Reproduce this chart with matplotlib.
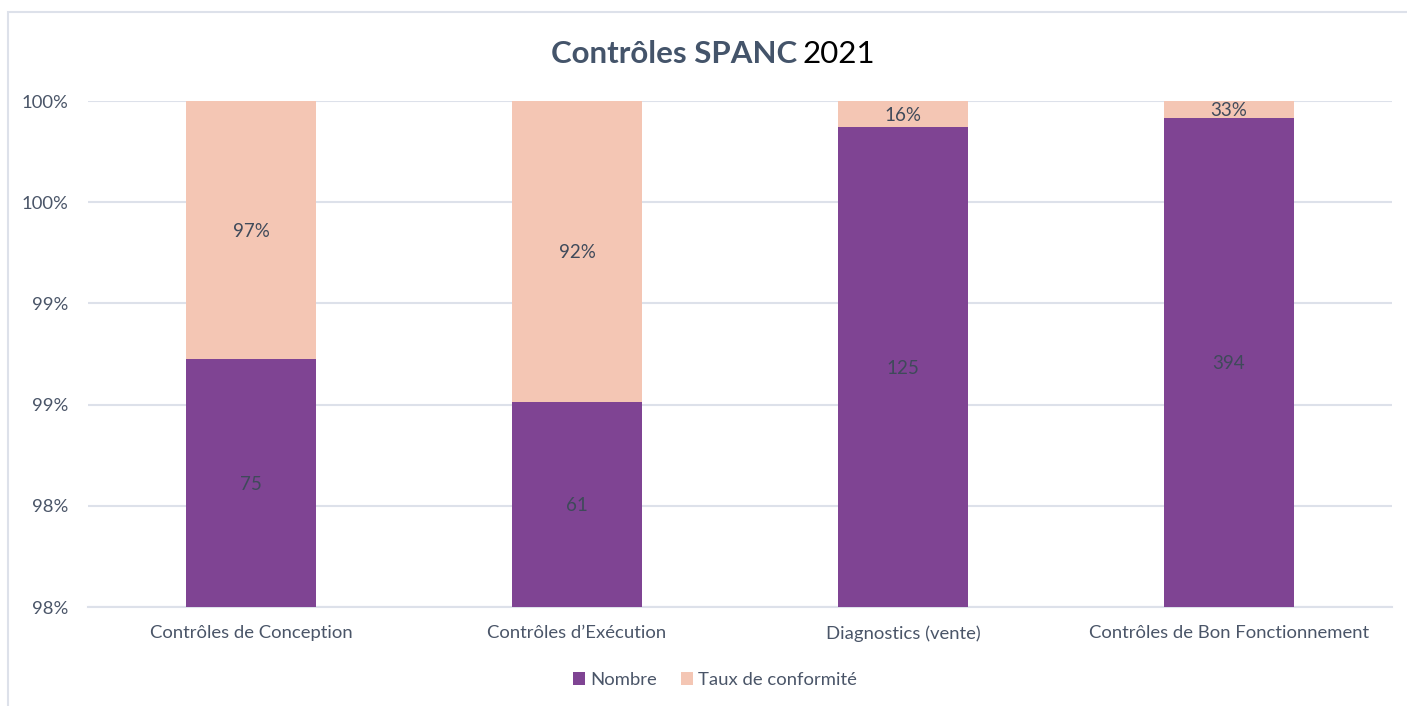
import numpy as np
import matplotlib.pyplot as plt
from matplotlib.patches import Rectangle

categories = ['Contrôles de Conception', 'Contrôles d’Exécution', 'Diagnostics (vente)',
              'Contrôles de Bon Fonctionnement']
nombre = [75, 61, 125, 394]
taux = [0.97, 0.92, 0.16, 0.33]
taux_labels = ['97%', '92%', '16%', '33%']
y_ticks = [0.975, 0.98, 0.985, 0.99, 0.995, 1.0]
y_tick_labels = ['98%', '98%', '99%', '99%', '100%', '100%']

plt.rcParams['font.family'] = ['Lato', 'DejaVu Sans']

purple = '#7f4493'
pink = '#f4c6b4'
txt = '#4a5568'
grid = '#dde1ea'

# 100% empilé : chaque série en part du total
nombre_a = np.array(nombre, dtype=float)
taux_a = np.array(taux, dtype=float)
total = nombre_a + taux_a
p_nombre = nombre_a / total
p_taux = taux_a / total

fig = plt.figure(figsize=(14.07, 7.06), dpi=100)
ax = fig.add_axes([88 / 1407, 1 - 607 / 706, (1392 - 88) / 1407, (607 - 101) / 706])

x = np.arange(len(categories))
ax.bar(x, p_nombre, width=0.4, color=purple, label='Nombre', zorder=3)
ax.bar(x, p_taux, width=0.4, bottom=p_nombre, color=pink, label='Taux de conformité', zorder=3)

ymin, ymax = y_ticks[0], y_ticks[-1]
ax.set_ylim(ymin, ymax)
ax.set_xlim(-0.5, len(categories) - 0.5)

# étiquettes au milieu de la partie visible
for i in range(len(categories)):
    lo = max(ymin, 0)
    hi = p_nombre[i]
    ax.text(x[i], (lo + hi) / 2, str(nombre[i]), ha='center', va='center_baseline',
            fontsize=13.5, color='#3f4a5a', zorder=4)
    lo = max(ymin, p_nombre[i])
    hi = min(ymax, p_nombre[i] + p_taux[i])
    ax.text(x[i], (lo + hi) / 2, taux_labels[i], ha='center', va='center_baseline',
            fontsize=13.5, color='#3f4a5a', zorder=4)

ax.set_yticks(y_ticks)
ax.set_yticklabels(y_tick_labels)
ax.set_xticks(x)
ax.set_xticklabels(categories)
ax.tick_params(axis='both', length=0, labelsize=13.3, colors=txt)
ax.tick_params(axis='x', pad=13)
ax.tick_params(axis='y', pad=14)
ax.yaxis.grid(True, color=grid, linewidth=1.5, zorder=0)
for s in ['top', 'right', 'left']:
    ax.spines[s].set_visible(False)
ax.spines['bottom'].set_color(grid)
ax.spines['bottom'].set_linewidth(1.5)

# titre en deux morceaux
fig.text(797 / 1407, 1 - 63 / 706, 'Contrôles SPANC', ha='right', va='baseline',
         fontsize=22.5, fontweight='bold', color='#44546a')
fig.text(803 / 1407, 1 - 63 / 706, '2021', ha='left', va='baseline',
         fontsize=22.5, color='black')

fig.legend(loc='center', bbox_to_anchor=(715 / 1407, 1 - 680 / 706), ncol=2, frameon=False,
           fontsize=13.3, labelcolor=txt, handlelength=0.65, handleheight=0.65,
           handletextpad=0.3, columnspacing=1.3)

# cadre du graphique
fig.patches.append(Rectangle((8 / 1407, -0.1), 1.2, 1 - 12 / 706 + 0.1, transform=fig.transFigure,
                             fill=False, edgecolor='#dde1ea', linewidth=1.5))

fig.savefig('out.png', dpi=100)
